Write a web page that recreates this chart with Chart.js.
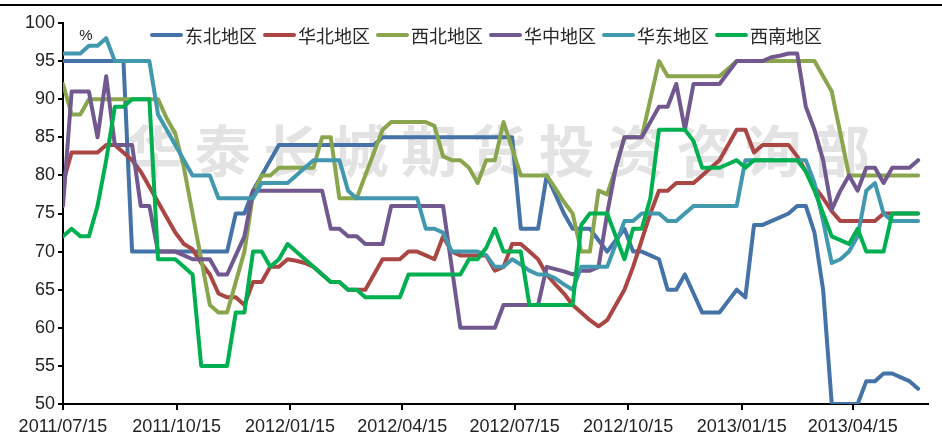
<!DOCTYPE html>
<html>
<head>
<meta charset="utf-8">
<title>各地区开工率</title>
<script src="https://cdn.jsdelivr.net/npm/chart.js@4.4.1/dist/chart.umd.min.js"></script>
<style>
body{margin:0;background:#fff;}
#wrap{position:relative;width:942px;height:446px;}
#legend{position:absolute;left:150px;top:24px;display:flex;font-family:"Noto Sans CJK SC";font-size:18px;line-height:22px;color:#262626;}
#legend .item{display:flex;align-items:center;margin-right:6px;}
#legend .sw{width:33px;height:4px;margin-right:2px;border-radius:2px;}
</style>
</head>
<body>
<div id="wrap">
<canvas id="myChart" width="942" height="446"></canvas>
<div id="legend"></div>
</div>
<script>
/*数据*/
var regions = ['东北地区', '华北地区', '西北地区', '华中地区', '华东地区', '西南地区'];
var colors = ['#4572A7', '#AA4643', '#89A54E', '#71588F', '#4198AF', '#00B050'];
var startDate = '2011/07/15';   // 周度数据第一周
var tickLabels = ['2011/07/15', '2011/10/15', '2012/01/15', '2012/04/15', '2012/07/15', '2012/10/15', '2013/01/15', '2013/04/15'];
var watermark = '华泰长城期货投资咨询部';

var dongbei = [
    95,95,95,95,95,95,95,95,70,70,
    70,70,70,70,70,70,70,70,70,70,
    75,75,78,80,82,84,84,84,84,84,
    84,84,84,84,84,84,84,85,85,85,
    85,85,85,85,85,85,85,85,85,85,
    85,85,85,73,73,73,80,77.5,75,73,
    73,73,71.5,70,71.5,73,70,70,69.5,69,
    65,65,67,64.5,62,62,62,63.5,65,64,
    73.5,73.5,74,74.5,75,76,76,72.5,65,50,
    50,50,50,53,53,54,54,53.5,53,52
];
var huabei = [
    79,83,83,83,83,84,84,83,82,80.5,
    78.5,76.5,74.5,72.5,71,70.3,68.5,67,64.5,64,
    64,63,66,66,68,68,69,68.8,68.5,68,
    67,66,66,65,65,65,67,69,69,69,
    70,70,69.5,69,72,70,69.5,69.5,69.5,69.5,
    67.5,68,71,71,70,69,67,65.7,64.5,63,
    62,61,60.2,61,63,65,68,71.5,75,78,
    78,79,79,79,80,81,82,84,86,86,
    83,84,84,84,84,82.5,80.5,78.5,77,75.3,
    74,74,74,74,74,75,75,75,75,75
];
var xibei = [
    92,88,88,90,90,90,90,90,90,90,
    90,90,87.5,85.5,81,75,69,63,62,62,
    66,70,77.5,80,80,81,81,81,81,81,
    85,85,77,77,77,80,83,86,87,87,
    87,87,87,86.5,82.5,82,82,81,79,82,
    82,87,83.5,80,80,80,80,78.3,76.5,75,
    70,70,78,77.5,81,85,85,85,90,95,
    93,93,93,93,93,93,93,94,95,95,
    95,95,95,95,95,95,95,95,93,91,
    85.5,80,80,80,80,80,80,80,80,80
];
var huazhong = [
    76,91,91,91,85,93,84,84,84,76,
    76,70,70,70,69.5,69,69,69,67,67,
    69.5,72,78,78,78,78,78,78,78,78,
    78,73,73,72,72,71,71,71,76,76,
    76,76,76,76,76,68,60,60,60,60,
    60,63,63,63,63,63,68,67.7,67.4,67,
    67.5,67.5,68,75,81,85,85,85,87,89,
    89,92,86,92,92,92,92,93.5,95,95,
    95,95,95.5,95.7,96,96,89,86,82,75.5,
    78,80,78,81,81,79,81,81,81,82
];
var huadong = [
    96,96,96,97,97,98,95,95,95,95,
    95,88,86,84,82,80,80,80,77,77,
    77,77,77,79,79,79,79,80,81,82,
    82,82,82,78,77,77,77,77,77,77,
    77,77,73,73,72.5,70,70,70,70,69.5,
    68,68,69,68.3,67.5,67,67,66.5,65.7,65,
    68,68,68,68,71,74,74,75,75,75,
    74,74,75,76,76,76,76,76,76,82,
    82,82,82,82,82,82,82,79,74,68.5,
    69,70,72,78,79,75,74,74,74,74
];
var xinan = [
    72,73,72,72,76,82,89,89,90,90,
    90,69,69,69,68,67,55,55,55,55,
    62,62,70,70,68,69,71,70,69,68,
    67,66,66,65,65,64,64,64,64,64,
    67,67,67,67,67,67,67,69,69,70.5,
    73,70,70,70,63,63,63,63,63,63,
    73.5,75,75,75,72,69,73,73,77,86,
    86,86,86,84.5,81,81,81,81.5,82,81,
    82,82,82,82,82,82,80.5,78,75,72,
    71.5,71,73,70,70,70,75,75,75,75
];

/*日期 -> 天数*/
function dayOf(s) {
    return Math.round((Date.parse(s) - Date.parse(startDate)) / 86400000);
}
var tickDays = tickLabels.map(dayOf);
var weekDays = dongbei.map(function(v, i) { return i * 7; });

var seriesList = [dongbei, huabei, xibei, huazhong, huadong, xinan];
var datasets = seriesList.map(function(s, k) {
    return {
        label: regions[k],
        data: s.map(function(v, i) { return {x: weekDays[i], y: v}; }),
        borderColor: colors[k],
        backgroundColor: colors[k],
        borderWidth: 4,
        pointRadius: 0,
        tension: 0,
        borderJoinStyle: 'round',
        borderCapStyle: 'round',
        order: seriesList.length - k
    };
});

/*图例*/
var lg = document.getElementById('legend');
regions.forEach(function(r, k) {
    var it = document.createElement('div');
    it.className = 'item';
    it.innerHTML = '<span class="sw" style="background:' + colors[k] + '"></span><span>' + r + '</span>';
    lg.appendChild(it);
});

/*水印、单位、顶线*/
var decor = {
    id: 'decor',
    beforeDatasetsDraw: function(chart) {
        var c = chart.ctx;
        c.save();
        c.fillStyle = '#e3e3e3';
        c.font = 'bold 56px "Noto Sans CJK SC"';
        c.textAlign = 'center';
        c.textBaseline = 'middle';
        Array.from(watermark).forEach(function(ch, i) {
            c.fillText(ch, 154 + i * 68.8, 151);
        });
        c.restore();
    },
    afterDraw: function(chart) {
        var c = chart.ctx;
        c.save();
        c.fillStyle = '#000';
        c.fillRect(0, 4, chart.width, 2);
        c.fillStyle = '#222';
        c.font = '15px "Liberation Sans"';
        c.textAlign = 'center';
        c.textBaseline = 'middle';
        c.fillText('%', chart.chartArea.left + 23, chart.chartArea.top + 13);
        c.restore();
    }
};

var tickFont = {family: 'Liberation Sans', size: 18};
var ctx = document.getElementById('myChart').getContext('2d');
var myChart = new Chart(ctx, {
    type: 'line',
    data: {datasets: datasets},
    options: {
        responsive: false,
        animation: false,
        layout: {padding: {left: 0, right: 14, top: 23, bottom: 0}},
        plugins: {
            legend: {display: false},
            tooltip: {enabled: false}
        },
        scales: {
            x: {
                type: 'linear',
                min: 0,
                max: 701,
                afterBuildTicks: function(axis) {
                    axis.ticks = tickDays.map(function(d) { return {value: d}; });
                },
                afterFit: function(axis) { axis.height = 42; },
                grid: {drawOnChartArea: false, color: '#000', lineWidth: 2, tickLength: 6},
                border: {color: '#000', width: 2},
                ticks: {
                    autoSkip: false,
                    maxRotation: 0,
                    padding: 6,
                    color: '#222',
                    font: tickFont,
                    callback: function(v) { return tickLabels[tickDays.indexOf(v)]; }
                }
            },
            y: {
                min: 50,
                max: 100,
                afterFit: function(axis) { axis.width = 63; },
                grid: {drawOnChartArea: false, color: '#000', lineWidth: 2, tickLength: 5},
                border: {color: '#000', width: 2},
                ticks: {stepSize: 5, padding: 3, color: '#222', font: tickFont}
            }
        }
    },
    plugins: [decor]
});
</script>
</body>
</html>
